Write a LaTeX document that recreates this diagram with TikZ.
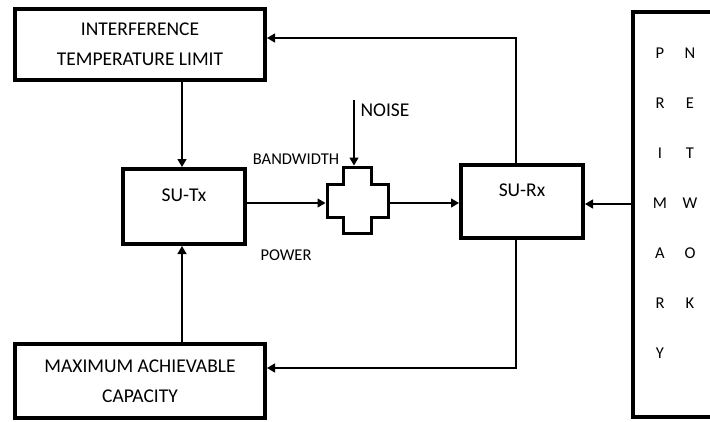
\documentclass[tikz,border=0pt]{standalone}
\usepackage{fontspec}
\setmainfont{Carlito}
\usetikzlibrary{arrows.meta,calc}
\begin{document}
\begin{tikzpicture}[x=1pt,y=-1pt,
  box/.style={draw, line width=4pt, inner sep=0pt, align=center, font=\fontsize{19.5}{30}\selectfont},
  conn/.style={line width=1.3pt},
  arr/.style={conn, -{Triangle[length=8pt,width=9pt]}},
  big/.style={font=\fontsize{19.5}{30}\selectfont, inner sep=0pt},
  small/.style={font=\fontsize{16.5}{20}\selectfont, inner sep=0pt}]
\useasboundingbox (0,0) rectangle (710,421);
\clip (0,0) rectangle (710,421);
% boxes
\node[box, minimum width=250pt, minimum height=71pt] (itl) at (140,44.5) {INTERFERENCE\\TEMPERATURE LIMIT};
\node[box, minimum width=122pt, minimum height=75pt] (sutx) at (184,206.5) {};
\node[big] (sutxl) at (184,195) {SU-Tx};
\node[box, minimum width=122pt, minimum height=73pt] (surx) at (522,201.5) {};
\node[big] (surxl) at (522,190) {SU-Rx};
\node[box, minimum width=250pt, minimum height=74pt] (mac) at (140,381) {MAXIMUM ACHIEVABLE\\CAPACITY};
\node[box, minimum width=110pt, minimum height=405pt, anchor=north west] (prim) at (631,10) {};
% primary network letters
\foreach \l [count=\i] in {P,R,I,M,A,R,Y}
  \node[small] (pl\i) at (660,{53+50*(\i-1)}) {\l};
\foreach \l [count=\i] in {N,E,T,W,O,K}
  \node[small] (pr\i) at (690,{53+50*(\i-1)}) {\l};
% cross (noise adder)
\draw[line width=3pt, line join=miter]
  (343,167) -- (371,167) -- (371,184) -- (388,184) -- (388,217) -- (371,217)
  -- (371,233) -- (343,233) -- (343,217) -- (327,217) -- (327,184) -- (343,184) -- cycle;
\coordinate (crw) at (325.5,203);
\coordinate (cre) at (389.5,203);
\coordinate (crn) at (354,165.5);
\coordinate (noisetop) at (354,100);
% labels
\node[big] (noise) at (385,110) {NOISE};
\node[small] (bw) at (296,159) {BANDWIDTH};
\node[small] (pw) at (286,255) {POWER};
% connectors
\draw[arr] (itl.south -| 182,0) -- (sutx.north -| 182,0);
\draw[arr] (mac.north -| 182,0) -- (sutx.south -| 182,0);
\draw[arr] (sutx.east |- crw) -- (crw);
\draw[arr] (cre) -- (surx.west |- cre);
\draw[arr] (noisetop) -- (crn);
\draw[arr] (prim.west |- 0,204) -- (surx.east |- 0,204);
\draw[arr] (surx.north -| 516,0) -- (516,38) -- (itl.east |- 0,38);
\draw[arr] (surx.south -| 516,0) -- (516,368) -- (mac.east |- 0,368);
\end{tikzpicture}
\end{document}
